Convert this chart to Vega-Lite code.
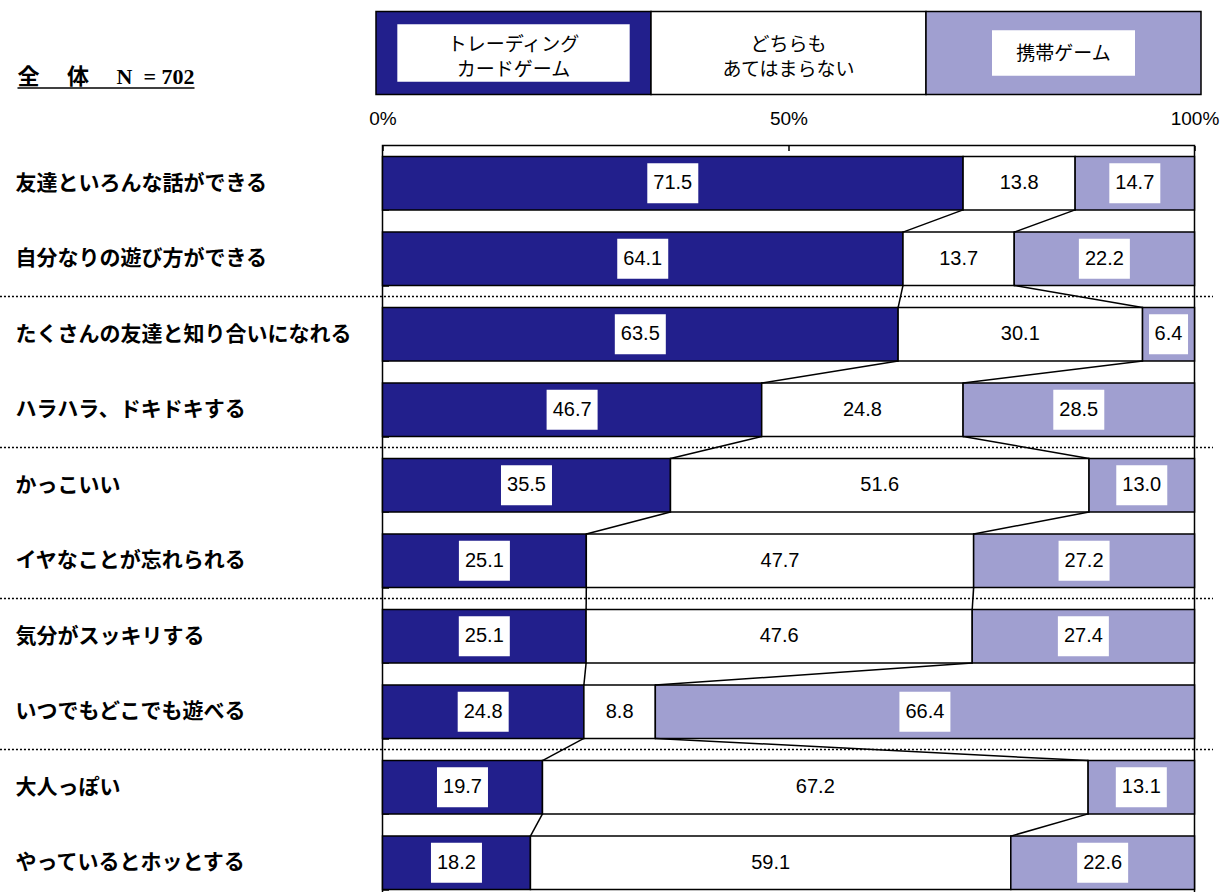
{
  "$schema": "https://vega.github.io/schema/vega-lite/v6.json",
  "background": "white",
  "padding": {"left": -2.5, "top": 10.5, "right": 5, "bottom": 0},
  "bounds": "flush",
  "spacing": 51,
  "config": {
    "view": {"stroke": "black", "strokeWidth": 1.5},
    "axis": {"labelColor": "black", "tickColor": "black", "grid": false}
  },
  "vconcat": [
    {
      "width": 825,
      "height": 83,
      "view": {"stroke": null},
      "data": {"values": [
        {"cat": "1", "label": "トレーディング\nカードゲーム"},
        {"cat": "2", "label": "どちらも\nあてはまらない"},
        {"cat": "3", "label": "携帯ゲーム"}
      ]},
      "encoding": {
        "x": {"field": "cat", "type": "nominal", "scale": {"paddingInner": 0, "paddingOuter": 0}, "axis": null},
        "y": {"datum": "全　\u00a0体　\u00a0N\u00a0\u00a0=\u00a0702", "type": "nominal", "scale": {"paddingInner": 0, "paddingOuter": 0},
          "axis": {"orient": "left", "offset": 188.5, "tickSize": 177, "tickOffset": 34.5, "tickWidth": 1.5, "domain": false,
            "labelAlign": "left", "labelBaseline": "middle", "labelPadding": 0, "labelOffset": -11,
            "labelFont": "Liberation Serif, Noto Sans CJK JP", "labelFontWeight": "bold", "labelFontSize": 22, "labelLimit": 400, "title": null}}
      },
      "layer": [
        {
          "mark": {"type": "bar", "stroke": "black", "strokeWidth": 1.5, "xOffset": -6.5},
          "encoding": {
            "color": {"field": "cat", "type": "nominal", "scale": {"domain": ["1", "2", "3"], "range": ["#221F8C", "#FFFFFF", "#A09FD0"]}, "legend": null}
          }
        },
        {
          "transform": [{"filter": "datum.cat === '1'"}],
          "mark": {"type": "bar", "color": "white", "width": {"band": 0.845}, "height": {"band": 0.69}, "xOffset": -6.5}
        },
        {
          "transform": [{"filter": "datum.cat === '3'"}],
          "mark": {"type": "bar", "color": "white", "width": {"band": 0.52}, "height": {"band": 0.55}, "xOffset": -6.5}
        },
        {
          "transform": [{"filter": "datum.cat !== '3'"}],
          "mark": {"type": "text", "lineBreak": "\n", "font": "Noto Sans CJK JP", "fontSize": 19, "lineHeight": 25, "color": "black", "dy": -8.5, "xOffset": -6.5},
          "encoding": {"text": {"field": "label"}}
        },
        {
          "transform": [{"filter": "datum.cat === '3'"}],
          "mark": {"type": "text", "font": "Noto Sans CJK JP", "fontSize": 19, "color": "black", "dy": 1, "xOffset": -6.5},
          "encoding": {"text": {"field": "label"}}
        }
      ]
    },
    {
      "width": 812,
      "height": 755,
      "data": {"values": [
        {"item": "友達といろんな話ができる", "cat": "1", "value": 71.5},
        {"item": "友達といろんな話ができる", "cat": "2", "value": 13.8},
        {"item": "友達といろんな話ができる", "cat": "3", "value": 14.7},
        {"item": "自分なりの遊び方ができる", "cat": "1", "value": 64.1},
        {"item": "自分なりの遊び方ができる", "cat": "2", "value": 13.7},
        {"item": "自分なりの遊び方ができる", "cat": "3", "value": 22.2},
        {"item": "たくさんの友達と知り合いになれる", "cat": "1", "value": 63.5},
        {"item": "たくさんの友達と知り合いになれる", "cat": "2", "value": 30.1},
        {"item": "たくさんの友達と知り合いになれる", "cat": "3", "value": 6.4},
        {"item": "ハラハラ、ドキドキする", "cat": "1", "value": 46.7},
        {"item": "ハラハラ、ドキドキする", "cat": "2", "value": 24.8},
        {"item": "ハラハラ、ドキドキする", "cat": "3", "value": 28.5},
        {"item": "かっこいい", "cat": "1", "value": 35.5},
        {"item": "かっこいい", "cat": "2", "value": 51.6},
        {"item": "かっこいい", "cat": "3", "value": 13.0},
        {"item": "イヤなことが忘れられる", "cat": "1", "value": 25.1},
        {"item": "イヤなことが忘れられる", "cat": "2", "value": 47.7},
        {"item": "イヤなことが忘れられる", "cat": "3", "value": 27.2},
        {"item": "気分がスッキリする", "cat": "1", "value": 25.1},
        {"item": "気分がスッキリする", "cat": "2", "value": 47.6},
        {"item": "気分がスッキリする", "cat": "3", "value": 27.4},
        {"item": "いつでもどこでも遊べる", "cat": "1", "value": 24.8},
        {"item": "いつでもどこでも遊べる", "cat": "2", "value": 8.8},
        {"item": "いつでもどこでも遊べる", "cat": "3", "value": 66.4},
        {"item": "大人っぽい", "cat": "1", "value": 19.7},
        {"item": "大人っぽい", "cat": "2", "value": 67.2},
        {"item": "大人っぽい", "cat": "3", "value": 13.1},
        {"item": "やっているとホッとする", "cat": "1", "value": 18.2},
        {"item": "やっているとホッとする", "cat": "2", "value": 59.1},
        {"item": "やっているとホッとする", "cat": "3", "value": 22.6}
      ]},
      "layer": [
        {
          "mark": {"type": "bar", "stroke": "black", "strokeWidth": 1.5},
          "encoding": {
            "y": {"field": "item", "type": "nominal",
              "scale": {"domain": ["友達といろんな話ができる", "自分なりの遊び方ができる", "たくさんの友達と知り合いになれる", "ハラハラ、ドキドキする", "かっこいい", "イヤなことが忘れられる", "気分がスッキリする", "いつでもどこでも遊べる", "大人っぽい", "やっているとホッとする"], "paddingInner": 0.294, "paddingOuter": 0.147},
              "axis": {"orient": "left", "tickBand": "extent", "tickSize": -6, "tickWidth": 1.5, "domain": false,
                "labelAlign": "left", "labelBaseline": "middle", "labelPadding": 373.5,
                "labelFont": "Noto Sans CJK JP", "labelFontWeight": "bold", "labelFontSize": 21, "labelLimit": 400, "title": null}},
            "x": {"field": "value", "type": "quantitative", "stack": "normalize",
              "scale": {"domain": [0, 1], "nice": false},
              "axis": {"orient": "top", "values": [0, 0.5, 1], "format": ".0%", "tickSize": -5, "tickWidth": 1.5, "domain": false, "labelFlush": false,
                "labelPadding": 22, "labelFont": "Liberation Sans Narrow, Liberation Sans", "labelFontSize": 19, "title": null}},
            "color": {"field": "cat", "type": "nominal", "scale": {"domain": ["1", "2", "3"], "range": ["#221F8C", "#FFFFFF", "#A09FD0"]}, "legend": null},
            "order": {"field": "cat", "type": "ordinal"}
          }
        },
        {
          "mark": {"type": "point", "filled": true, "color": "white", "size": 2601, "strokeWidth": 0},
          "encoding": {
            "y": {"field": "item", "type": "nominal"},
            "x": {"field": "value", "type": "quantitative", "stack": "normalize", "bandPosition": 0.5},
            "detail": {"field": "cat", "type": "nominal"},
            "order": {"field": "cat", "type": "ordinal"},
            "shape": {"condition": {"test": "datum.value < 10", "value": "M-0.765,-0.784H0.765V0.784H-0.765Z"}, "value": "M-1,-0.784H1V0.784H-1Z"},
            "opacity": {"condition": {"test": "datum.cat === '2'", "value": 0}, "value": 1}
          }
        },
        {
          "mark": {"type": "text", "font": "Liberation Sans", "fontSize": 20, "color": "black"},
          "encoding": {
            "y": {"field": "item", "type": "nominal"},
            "x": {"field": "value", "type": "quantitative", "stack": "normalize", "bandPosition": 0.5},
            "detail": {"field": "cat", "type": "nominal"},
            "order": {"field": "cat", "type": "ordinal"},
            "text": {"field": "value", "type": "quantitative", "format": ".1f"}
          }
        },
        {
          "transform": [
            {"stack": "value", "groupby": ["item"], "offset": "normalize", "sort": [{"field": "cat", "order": "ascending"}], "as": ["s0", "s1"]},
            {"filter": "datum.cat !== '3'"},
            {"window": [{"op": "lead", "field": "s1", "as": "ns1"}, {"op": "lead", "field": "item", "as": "nitem"}], "groupby": ["cat"]},
            {"filter": "datum.nitem != null"}
          ],
          "mark": {"type": "rule", "color": "black", "strokeWidth": 1.5, "yOffset": 26.65, "y2Offset": -26.65},
          "encoding": {
            "y": {"field": "item", "type": "nominal"},
            "y2": {"field": "nitem"},
            "x": {"field": "s1", "type": "quantitative"},
            "x2": {"field": "ns1"}
          }
        },
        {
          "transform": [
            {"filter": "datum.cat === '1'"},
            {"window": [{"op": "row_number", "as": "rn"}]},
            {"filter": "datum.rn % 2 === 1 && datum.rn > 1"}
          ],
          "mark": {"type": "rule", "color": "black", "strokeWidth": 1.5, "strokeDash": [2, 2], "yOffset": -37.75},
          "encoding": {
            "y": {"field": "item", "type": "nominal"},
            "x": {"datum": -0.4711, "type": "quantitative"},
            "x2": {"datum": 1.0228}
          }
        }
      ]
    }
  ]
}
